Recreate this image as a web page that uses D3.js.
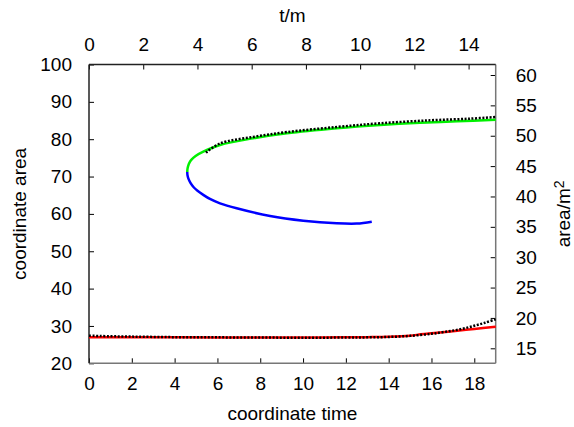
<!DOCTYPE html>
<html>
<head>
<meta charset="utf-8">
<script src="https://cdn.jsdelivr.net/npm/d3@7"></script>
<style>
  body { margin: 0; background: #fff; }
  text { font-family: "Liberation Sans", Arial, sans-serif; fill: #000; }
</style>
</head>
<body>
<div id="chart"></div>
<script>
const W = 574, H = 427;
const margin = {left: 89, right: 78.3, top: 64.5, bottom: 63.7}; // plot box from the picture

// data, in bottom/left axis units (coordinate time, coordinate area)
const greenBranch = [[4.59,71.2],[4.6,72.0],[4.63,72.8],[4.7,73.8],[4.8,74.6],[4.98,75.5],[5.34,76.65],
  [6.12,78.45],[7.66,80.24],[9.24,81.58],[11.57,82.92],[13.6,83.8],[15.46,84.4],[17.2,84.8],[19,85.2]];
const blueBranch = [[4.59,71.2],[4.6,70.4],[4.64,69.5],[4.74,68.3],[4.88,67.2],[5.07,66.2],[5.34,65.1],
  [5.65,64.0],[6.12,62.83],[6.9,61.5],[8.46,59.44],[10.01,58.18],[11.57,57.48],[12.51,57.4],[13.21,57.91]];
const upperDots = [[5.46,76.4],[6.12,78.85],[7.66,80.6],[9.24,81.9],[11.57,83.27],[13.6,84.26],
  [15.93,85.06],[17.8,85.5],[19,85.94]];
const redLine = [[0,27.0],[2,27.0],[4,26.95],[6,26.92],[8,26.9],[10,26.9],[12,26.95],[13,27.0],
  [14,27.1],[15,27.4],[15.5,27.75],[16,28.05],[17,28.6],[18,29.2],[19,29.8]];
const lowerDots = [[0,27.4],[0.5,27.3],[2,27.15],[4,27.0],[6,26.95],[8,26.9],[10,26.85],[12,26.9],
  [13,26.95],[14,27.05],[15,27.35],[16,27.9],[16.5,28.3],[17,28.75],[17.5,29.3],[18,30.05],
  [18.5,30.85],[19,31.8]];

const xTicks = [0,2,4,6,8,10,12,14,16,18];
const yTicks = [20,30,40,50,60,70,80,90,100];
const x2Ticks = [0,2,4,6,8,10,12,14];
const y2Ticks = [15,20,25,30,35,40,45,50,55,60];

const iw = W - margin.left - margin.right;
const ih = H - margin.top - margin.bottom;

var svg = d3.select("#chart").append("svg")
  .attr("width", W).attr("height", H);

var g = svg.append("g").attr("transform", "translate(" + margin.left + "," + margin.top + ")");

var x = d3.scaleLinear().domain([0, 19]).range([0, iw]);
var y = d3.scaleLinear().domain([20, 100]).range([ih, 0]);
var x2 = d3.scaleLinear().domain([0, 15]).range([0, iw]); // t/m
var y2 = d3.scaleLinear().domain([12.53, 61.73]).range([ih, 0]); // area/m^2

// axes, gnuplot style: ticks point inward
function styleAxis(sel) {
  sel.select(".domain").remove();
  sel.selectAll(".tick line").attr("stroke", "#000").attr("stroke-width", 1);
  sel.selectAll(".tick text").style("font-size", "19px").attr("fill", "#000");
}
g.append("g").attr("transform", "translate(0," + ih + ")")
  .call(d3.axisBottom(x).tickValues(xTicks).tickSizeInner(-5).tickSizeOuter(0).tickPadding(13))
  .call(styleAxis);
g.append("g")
  .call(d3.axisLeft(y).tickValues(yTicks).tickSizeInner(-5).tickSizeOuter(0).tickPadding(17))
  .call(styleAxis);
g.append("g")
  .call(d3.axisTop(x2).tickValues(x2Ticks).tickSizeInner(-5).tickSizeOuter(0).tickPadding(14))
  .call(styleAxis);
g.append("g").attr("transform", "translate(" + iw + ",0)")
  .call(d3.axisRight(y2).tickValues(y2Ticks).tickSizeInner(-5).tickSizeOuter(0).tickPadding(20))
  .call(styleAxis);

// border
g.append("line").attr("x1", 0).attr("x2", iw).attr("y1", ih).attr("y2", ih).attr("stroke", "#777").attr("stroke-width", 1.5);
g.append("line").attr("x1", iw).attr("x2", iw).attr("y1", 0).attr("y2", ih).attr("stroke", "#777").attr("stroke-width", 1.5);
g.append("line").attr("x1", 0).attr("x2", iw).attr("y1", 0).attr("y2", 0).attr("stroke", "#222").attr("stroke-width", 1.5);
g.append("line").attr("x1", 0).attr("x2", 0).attr("y1", 0).attr("y2", ih).attr("stroke", "#222").attr("stroke-width", 1.5);

var line = d3.line().x(d => x(d[0])).y(d => y(d[1])).curve(d3.curveCatmullRom);

g.append("path").datum(redLine).attr("d", line)
  .attr("fill", "none").attr("stroke", "#f00").attr("stroke-width", 2.5);
g.append("path").datum(greenBranch).attr("d", line)
  .attr("fill", "none").attr("stroke", "#00f000").attr("stroke-width", 2.5);
g.append("path").datum(blueBranch).attr("d", line)
  .attr("fill", "none").attr("stroke", "#0000ff").attr("stroke-width", 2.5);
g.append("path").datum(upperDots).attr("d", line)
  .attr("fill", "none").attr("stroke", "#000").attr("stroke-width", 2.5).attr("stroke-dasharray", "2,1.6");
g.append("path").datum(lowerDots).attr("d", line)
  .attr("fill", "none").attr("stroke", "#000").attr("stroke-width", 2.5).attr("stroke-dasharray", "2,1.6");

// axis titles
svg.append("text").attr("x", margin.left + iw / 2).attr("y", 420)
  .attr("text-anchor", "middle").style("font-size", "19px").text("coordinate time");
svg.append("text").attr("x", margin.left + iw / 2).attr("y", 22)
  .attr("text-anchor", "middle").style("font-size", "19px").text("t/m");
svg.append("text").attr("transform", "translate(26," + (margin.top + ih / 2) + ") rotate(-90)")
  .attr("text-anchor", "middle").style("font-size", "19px").text("coordinate area");
var r = svg.append("text").attr("transform", "translate(570," + (margin.top + ih / 2) + ") rotate(-90)")
  .attr("text-anchor", "middle").style("font-size", "19px");
r.append("tspan").text("area/m");
r.append("tspan").attr("dy", "-0.45em").style("font-size", "14px").text("2");
</script>
</body>
</html>
